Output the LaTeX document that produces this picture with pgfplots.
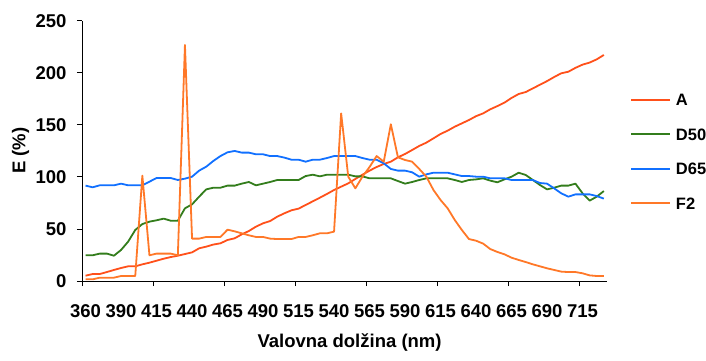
\documentclass[border=0pt]{standalone}
\usepackage{fontspec}
\setmainfont{Liberation Sans}
\usepackage{pgfplots}
\pgfplotsset{compat=1.18}
\usepackage{pgfplotstable}

\definecolor{colA}{RGB}{255,80,26}
\definecolor{colDfifty}{RGB}{51,125,28}
\definecolor{colDsixtyfive}{RGB}{17,112,255}
\definecolor{colFtwo}{RGB}{255,120,40}

% relative spectral power of the illuminants, one row per wavelength sample
\pgfplotstableread{
idx A D50 D65 F2
0 5.1 24.7 91.6 1.6
1 6.7 24.7 90.0 1.6
2 6.7 26.3 91.9 3.2
3 8.6 26.3 91.9 3.2
4 10.6 24.3 91.9 3.2
5 12.5 29.8 93.5 4.8
6 14.1 37.8 91.9 4.8
7 14.1 49.0 91.9 4.8
8 16.0 54.7 91.9 101.2
9 17.6 57.0 95.4 24.7
10 19.5 58.3 98.9 26.3
11 21.4 59.9 98.9 26.3
12 23.0 57.9 98.9 26.3
13 24.3 57.9 97.0 24.7
14 25.9 69.8 98.3 226.7
15 27.5 73.6 100.2 40.7
16 31.4 81.0 106.0 40.7
17 33.0 88.0 109.8 42.3
18 35.0 89.6 115.3 42.3
19 36.2 89.6 120.0 42.3
20 39.4 91.6 123.6 49.3
21 41.0 91.6 124.9 47.7
22 44.8 93.5 123.3 45.8
23 48.0 95.1 123.3 43.9
24 52.2 91.9 121.7 42.3
25 55.4 93.5 121.7 42.3
26 57.6 95.1 120.0 40.7
27 61.8 97.0 120.0 40.3
28 65.0 97.0 118.5 40.3
29 67.9 97.0 116.5 40.3
30 69.5 97.0 116.5 42.3
31 73.0 100.8 114.6 42.3
32 76.5 102.1 116.5 43.9
33 80.0 100.5 116.5 45.8
34 83.6 102.1 118.1 45.8
35 87.4 102.1 120.0 47.4
36 90.6 102.1 120.0 161.0
37 93.8 102.1 120.0 100.2
38 98.0 100.5 120.0 89.0
39 102.1 100.5 118.1 100.2
40 106.0 98.6 116.5 109.5
41 109.5 98.6 116.5 120.0
42 112.4 98.6 113.0 114.6
43 114.6 98.6 107.6 150.5
44 118.8 96.0 106.0 118.8
45 122.0 93.5 106.0 116.2
46 125.8 95.1 104.4 114.6
47 129.7 97.0 100.2 107.6
48 132.9 98.6 102.4 100.2
49 137.0 98.6 104.0 87.4
50 141.2 98.6 104.0 77.8
51 144.4 98.6 104.0 69.8
52 148.2 97.0 102.4 58.6
53 151.4 95.1 100.8 49.0
54 154.6 97.0 100.8 40.3
55 158.3 97.6 100.2 38.7
56 161.0 98.6 100.2 35.9
57 164.9 96.4 98.6 30.7
58 168.0 94.8 98.6 27.9
59 171.3 97.6 98.6 25.6
60 175.8 100.2 97.0 22.4
61 179.6 104.0 97.0 20.2
62 181.5 101.8 97.0 18.2
63 185.0 97.0 97.0 16.0
64 188.5 92.2 94.1 14.1
65 192.0 88.0 93.5 12.2
66 195.9 89.6 89.0 10.6
67 199.5 91.6 84.2 9.0
68 201.0 91.6 81.0 8.6
69 204.7 93.5 83.2 8.6
70 207.8 84.2 83.2 7.4
71 209.8 77.2 83.2 5.4
72 212.9 81.0 81.6 4.8
73 217.1 86.4 79.1 4.8
}\spectra

\begin{document}
\begin{tikzpicture}
\path[use as bounding box] (0,0) rectangle (706bp,361bp);
\begin{axis}[
  at={(82bp,80bp)}, anchor=south west,
  width=525.4bp, height=260.3bp, scale only axis,
  xmin=-0.5, xmax=73.5, ymin=0, ymax=250,
  axis x line=bottom, axis y line=left,
  axis line style={-, line width=1bp, black},
  tick align=outside, major tick length=5bp,
  tick style={line width=0.8bp, black},
  xtick={-0.5,9.5,...,69.5}, xticklabels={},
  extra x ticks={0,5,...,70},
  extra x tick labels={360,390,415,440,465,490,515,540,565,590,615,640,665,690,715},
  extra x tick style={major tick length=0pt},
  ytick={0,50,...,250},
  /pgf/number format/assume math mode=true,
  tick label style={font=\fontsize{18.5bp}{20bp}\selectfont\bfseries},
  xticklabel style={anchor=north, inner sep=0pt, yshift=-23.7bp},
  yticklabel style={anchor=east, inner sep=0pt, xshift=-10.3bp},
  label style={font=\fontsize{18.5bp}{20bp}\selectfont\bfseries},
  xlabel={Valovna dolžina (nm)}, ylabel={E (\%)},
  xlabel style={at={(axis description cs:0.5093,-0.2536)}, anchor=base},
  ylabel style={at={(axis description cs:-0.1079,0.5)}, anchor=base},
  legend style={at={(axis description cs:1.043,0.497)}, anchor=west,
    draw=none, fill=none, inner sep=0pt,
    font=\fontsize{16.5bp}{18bp}\selectfont\bfseries,
    nodes={inner sep=0pt, text depth=0pt},
    row sep=23bp, column sep=5bp},
  legend cell align=left,
  legend image code/.code={\draw[#1] (0bp,0bp) -- (39bp,0bp);},
  every axis plot/.append style={line width=1.8bp, line join=round},
  clip=false,
]
\addplot[colA] table[x=idx, y=A] {\spectra};
\addlegendentry{A}
\addplot[colDfifty] table[x=idx, y=D50] {\spectra};
\addlegendentry{D50}
\addplot[colDsixtyfive] table[x=idx, y=D65] {\spectra};
\addlegendentry{D65}
\addplot[colFtwo] table[x=idx, y=F2] {\spectra};
\addlegendentry{F2}
\end{axis}
\end{tikzpicture}
\end{document}
